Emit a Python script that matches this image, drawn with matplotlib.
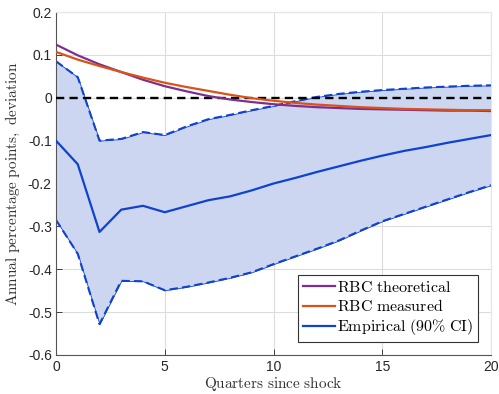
import matplotlib
matplotlib.use('Agg')
import matplotlib.pyplot as plt
import numpy as np

# quarters since shock
quarters = np.arange(0, 21)

# empirical response and 90% CI bounds
emp_mean = [-0.100, -0.155, -0.313, -0.261, -0.252, -0.267, -0.253, -0.239, -0.230, -0.216,
            -0.200, -0.187, -0.173, -0.160, -0.147, -0.135, -0.124, -0.115, -0.105, -0.096, -0.087]
emp_upper = [0.085, 0.048, -0.100, -0.096, -0.080, -0.087, -0.067, -0.050, -0.040, -0.029,
             -0.019, -0.008, 0.002, 0.009, 0.014, 0.018, 0.021, 0.024, 0.026, 0.028, 0.029]
emp_lower = [-0.285, -0.364, -0.528, -0.427, -0.428, -0.449, -0.441, -0.431, -0.420, -0.407,
             -0.388, -0.370, -0.352, -0.333, -0.310, -0.288, -0.271, -0.254, -0.237, -0.220, -0.204]

# model responses
rbc_theoretical = [0.124, 0.099, 0.078, 0.060, 0.042, 0.027, 0.015, 0.004, -0.004, -0.010,
                   -0.015, -0.019, -0.022, -0.024, -0.026, -0.027, -0.028, -0.029, -0.030, -0.030, -0.031]
rbc_measured = [0.107, 0.089, 0.074, 0.060, 0.047, 0.035, 0.025, 0.016, 0.007, -0.001,
                -0.007, -0.012, -0.016, -0.019, -0.022, -0.024, -0.026, -0.027, -0.028, -0.029, -0.029]

purple = '#7E2F8E'
orange = '#D95319'
blue = '#1042D0'

plt.rcParams['mathtext.fontset'] = 'cm'
plt.rcParams['font.family'] = ['Liberation Sans', 'DejaVu Sans']

fig = plt.figure(figsize=(4.99, 3.94), dpi=100)
ax = fig.add_axes([0.1122, 0.099, 0.872, 0.8705])

ax.fill_between(quarters, emp_lower, emp_upper, facecolor='#CCD6F1', edgecolor=blue,
                linewidth=0.6, zorder=1)
ax.plot(quarters, emp_upper, color=blue, linewidth=1.5, dashes=(4, 2), zorder=2)
ax.plot(quarters, emp_lower, color=blue, linewidth=1.5, dashes=(4, 2), zorder=2)
ax.axhline(0, color='black', linewidth=1.7, dashes=(3.5, 2.2), zorder=3)
ax.plot(quarters, rbc_theoretical, color=purple, linewidth=1.6, zorder=4,
        label=r'$\mathrm{RBC\ theoretical}$')
ax.plot(quarters, rbc_measured, color=orange, linewidth=1.6, zorder=4,
        label=r'$\mathrm{RBC\ measured}$')
ax.plot(quarters, emp_mean, color=blue, linewidth=1.6, zorder=4,
        label=r'$\mathrm{Empirical\ (90\%\ CI)}$')

ax.set_xlim(0, 20)
ax.set_ylim(-0.6, 0.2)
ax.set_xticks([0, 5, 10, 15, 20])
ax.set_yticks(np.arange(-0.6, 0.21, 0.1))
ax.set_yticklabels(['-0.6', '-0.5', '-0.4', '-0.3', '-0.2', '-0.1', '0', '0.1', '0.2'])
ax.grid(True, color='#dcdcdc', linewidth=0.8)
ax.set_axisbelow(True)
ax.tick_params(direction='in', length=4, labelsize=10, colors='#262626', width=0.6)
ax.tick_params(axis='y', pad=3)
for s in ['left', 'bottom']:
    ax.spines[s].set_color('#555555')
    ax.spines[s].set_linewidth(0.8)
for s in ['top', 'right']:
    ax.spines[s].set_color('#e6e6e6')

ax.set_xlabel(r'$\mathrm{Quarters\ since\ shock}$', fontsize=11, color='#333333', labelpad=1)
ax.set_ylabel(r'$\mathrm{Annual\ percentage\ points,\ deviation}$', fontsize=11,
              color='#333333', labelpad=4)

leg = ax.legend(loc='lower right', fontsize=11.5, fancybox=False, framealpha=1,
                edgecolor='#333333', handlelength=2.0, handletextpad=0.15,
                borderpad=0.3, labelspacing=0.2, borderaxespad=0.8)
leg.get_frame().set_linewidth(0.8)

fig.savefig('out.png', dpi=100)
